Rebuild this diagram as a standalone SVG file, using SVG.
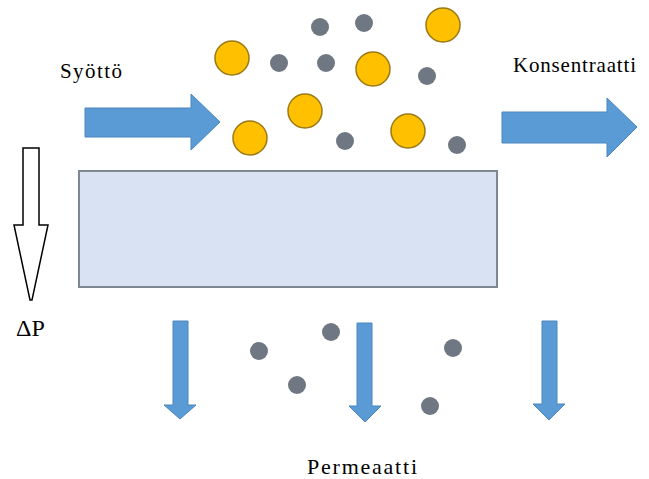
<svg xmlns="http://www.w3.org/2000/svg" width="649" height="479" viewBox="0 0 649 479">
<style>
.lbl{font-family:"Liberation Serif","DejaVu Serif","Times New Roman",serif;fill:#000;}
.big{fill:#ffc000;stroke:#9a7a18;stroke-width:1.5;}
.dot{fill:#6f7782;}
.blue{fill:#5b9bd5;stroke:#4a86bf;stroke-width:1;}
</style>
<rect width="649" height="479" fill="#fff"/>
<g id="membrane"><rect x="79" y="171" width="418" height="116" fill="#d8e2f2" stroke="#7f8790" stroke-width="2"/></g>
<g id="particles">
<circle class="big" cx="232" cy="58" r="17"/>
<circle class="big" cx="305" cy="111" r="17"/>
<circle class="big" cx="250" cy="138" r="17"/>
<circle class="big" cx="443" cy="25" r="17"/>
<circle class="big" cx="373" cy="69" r="17"/>
<circle class="big" cx="408" cy="131" r="17"/>
<circle class="dot" cx="320" cy="27" r="9"/>
<circle class="dot" cx="279" cy="63" r="9"/>
<circle class="dot" cx="326" cy="63" r="9"/>
<circle class="dot" cx="364" cy="23" r="9"/>
<circle class="dot" cx="427" cy="76" r="9"/>
<circle class="dot" cx="345" cy="141" r="9"/>
<circle class="dot" cx="457" cy="145" r="9"/>
<circle class="dot" cx="259" cy="351" r="9"/>
<circle class="dot" cx="331" cy="332" r="9"/>
<circle class="dot" cx="297" cy="385" r="9"/>
<circle class="dot" cx="453" cy="348" r="9"/>
<circle class="dot" cx="430" cy="406" r="9"/>
</g>
<g id="connectors">
<polygon class="blue" points="85,108 191,108 191,94 220,122 191,150 191,137 85,137"/>
<polygon class="blue" points="502,112 607,112 607,98 637,127 607,157 607,143 502,143"/>
<polygon class="blue" points="173,321 188,321 188,405 196,405 180,419 164,405 173,405"/>
<polygon class="blue" points="357,323 372,323 372,406 381,406 365,422 349,406 357,406"/>
<polygon class="blue" points="542,321 557,321 557,404 565,404 549,420 533,404 542,404"/>
<polygon points="23,148 39,148 39,225 48,225 32,300 30,300 14,225 23,225" fill="#fff" stroke="#000" stroke-width="1.5"/>
</g>
<g id="labels">
<text class="lbl" x="60" y="78" font-size="21" textLength="62" lengthAdjust="spacing">Syöttö</text>
<text class="lbl" x="513" y="72" font-size="21" textLength="123" lengthAdjust="spacing">Konsentraatti</text>
<text class="lbl" x="16" y="336" font-size="24">ΔP</text>
<text class="lbl" x="307" y="474" font-size="22" textLength="110" lengthAdjust="spacing">Permeaatti</text>
</g>
</svg>
